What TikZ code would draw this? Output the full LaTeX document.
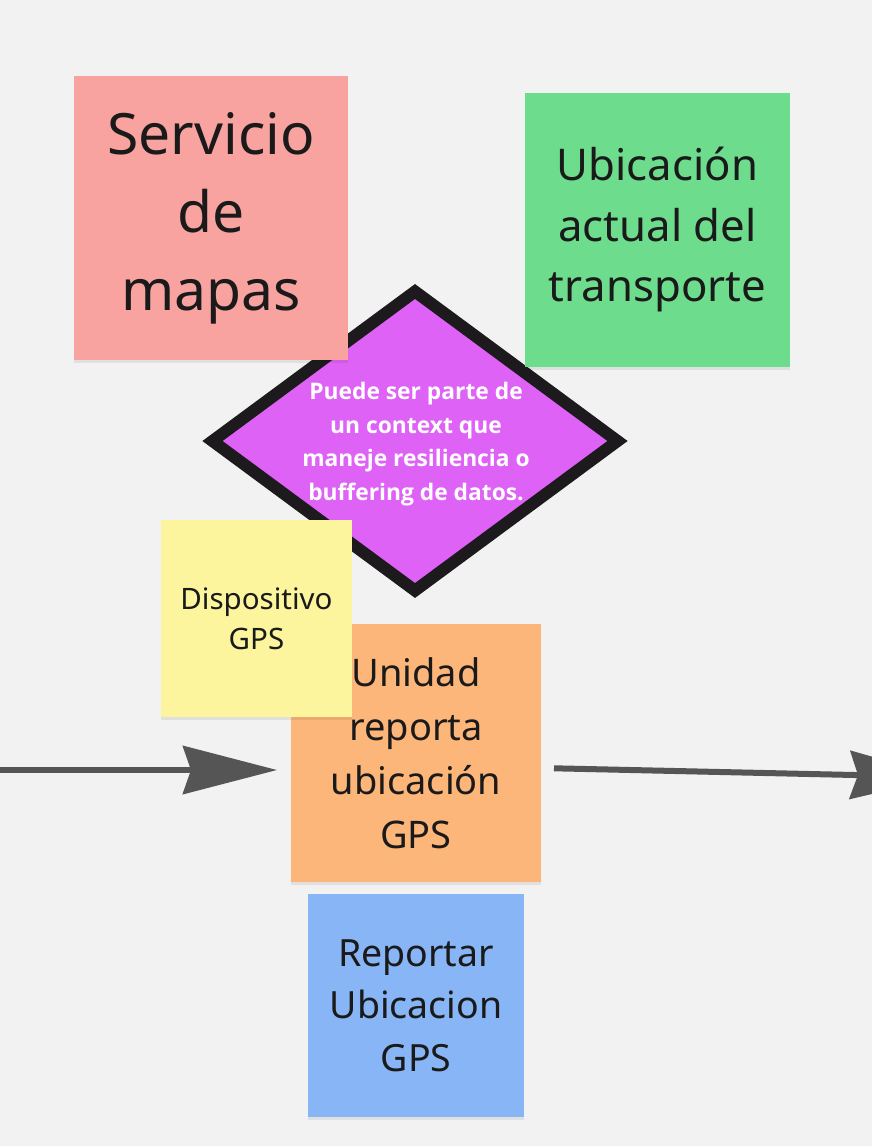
\documentclass[tikz,border=0pt]{standalone}
\usepackage{fontspec}
\setmainfont{Noto Sans}
\newfontfamily\notefont{Open Sans}
\usetikzlibrary{arrows.meta,shapes.geometric,shadows}
\definecolor{bg}{HTML}{F2F2F2}
\definecolor{cpink}{HTML}{F9A3A1}
\definecolor{cgreen}{HTML}{6DDC8D}
\definecolor{cpurple}{HTML}{DE62F6}
\definecolor{cyellow}{HTML}{FDF49E}
\definecolor{corange}{HTML}{FDB67A}
\definecolor{cblue}{HTML}{88B5F6}
\definecolor{cgrey}{HTML}{555555}
\definecolor{ctext}{HTML}{1A1A1A}
\definecolor{cborder}{HTML}{1C1A1D}
\tikzset{
  sticky/.style={rectangle, inner sep=0pt, outer sep=0pt, align=center, text=ctext,
    drop shadow={shadow xshift=0pt, shadow yshift=-3pt, opacity=0.07, fill=black}},
  arr/.style={draw=cgrey, line width=6pt,
    -{Stealth[length=94pt, width=48pt, inset=8pt]}},
}
\begin{document}
\begin{tikzpicture}[x=1pt, y=-1pt]
\path[use as bounding box, fill=bg] (0,0) rectangle (872,1146);
\begin{scope}
\clip (0,0) rectangle (872,1146);

% diamond note
\node[diamond, draw=cborder, fill=cpurple, line width=12pt, line join=miter,
      minimum width=410pt, minimum height=304pt, inner sep=0pt] (note) at (415,441) {};
\node[text=white, align=center, font=\notefont\bfseries\fontsize{22.8}{33.8}\selectfont] (notetxt) at (416,444)
  {Puede ser parte de\\un context que\\maneje resiliencia o\\buffering de datos.};

\node[sticky, fill=cpink, minimum width=274pt, minimum height=284pt,
      font=\fontsize{57}{78}\selectfont] (mapas) at (211,218) {Servicio\\de\\mapas};
\node[sticky, fill=cgreen, minimum width=265pt, minimum height=274pt,
      font=\fontsize{43.7}{60.5}\selectfont] (ubic) at (657.5,230) {Ubicación\\actual del\\transporte};

\node[sticky, fill=corange, minimum width=250pt, minimum height=258pt,
      font=\fontsize{38}{54}\selectfont] (unidad) at (416,753) {Unidad\\reporta\\ubicación\\GPS};
\node[sticky, fill=cyellow, minimum width=191pt, minimum height=197pt,
      font=\fontsize{29.5}{40}\selectfont] (gps) at (256.5,618.5) {Dispositivo\\GPS};
\node[sticky, fill=cblue, minimum width=216pt, minimum height=223pt,
      font=\fontsize{37.5}{52.5}\selectfont] (reportar) at (416,1005.5) {Reportar\\Ubicacion\\GPS};

% connectors
\coordinate (inL) at (0,770);
\coordinate (r0) at (0,768);
\coordinate (outR) at (944,777);
\draw[arr, shorten >=14pt] (inL) -- (inL -| unidad.west);
\draw[arr, shorten <=13pt] (unidad.east |- r0) -- (outR);
\end{scope}
\end{tikzpicture}
\end{document}
